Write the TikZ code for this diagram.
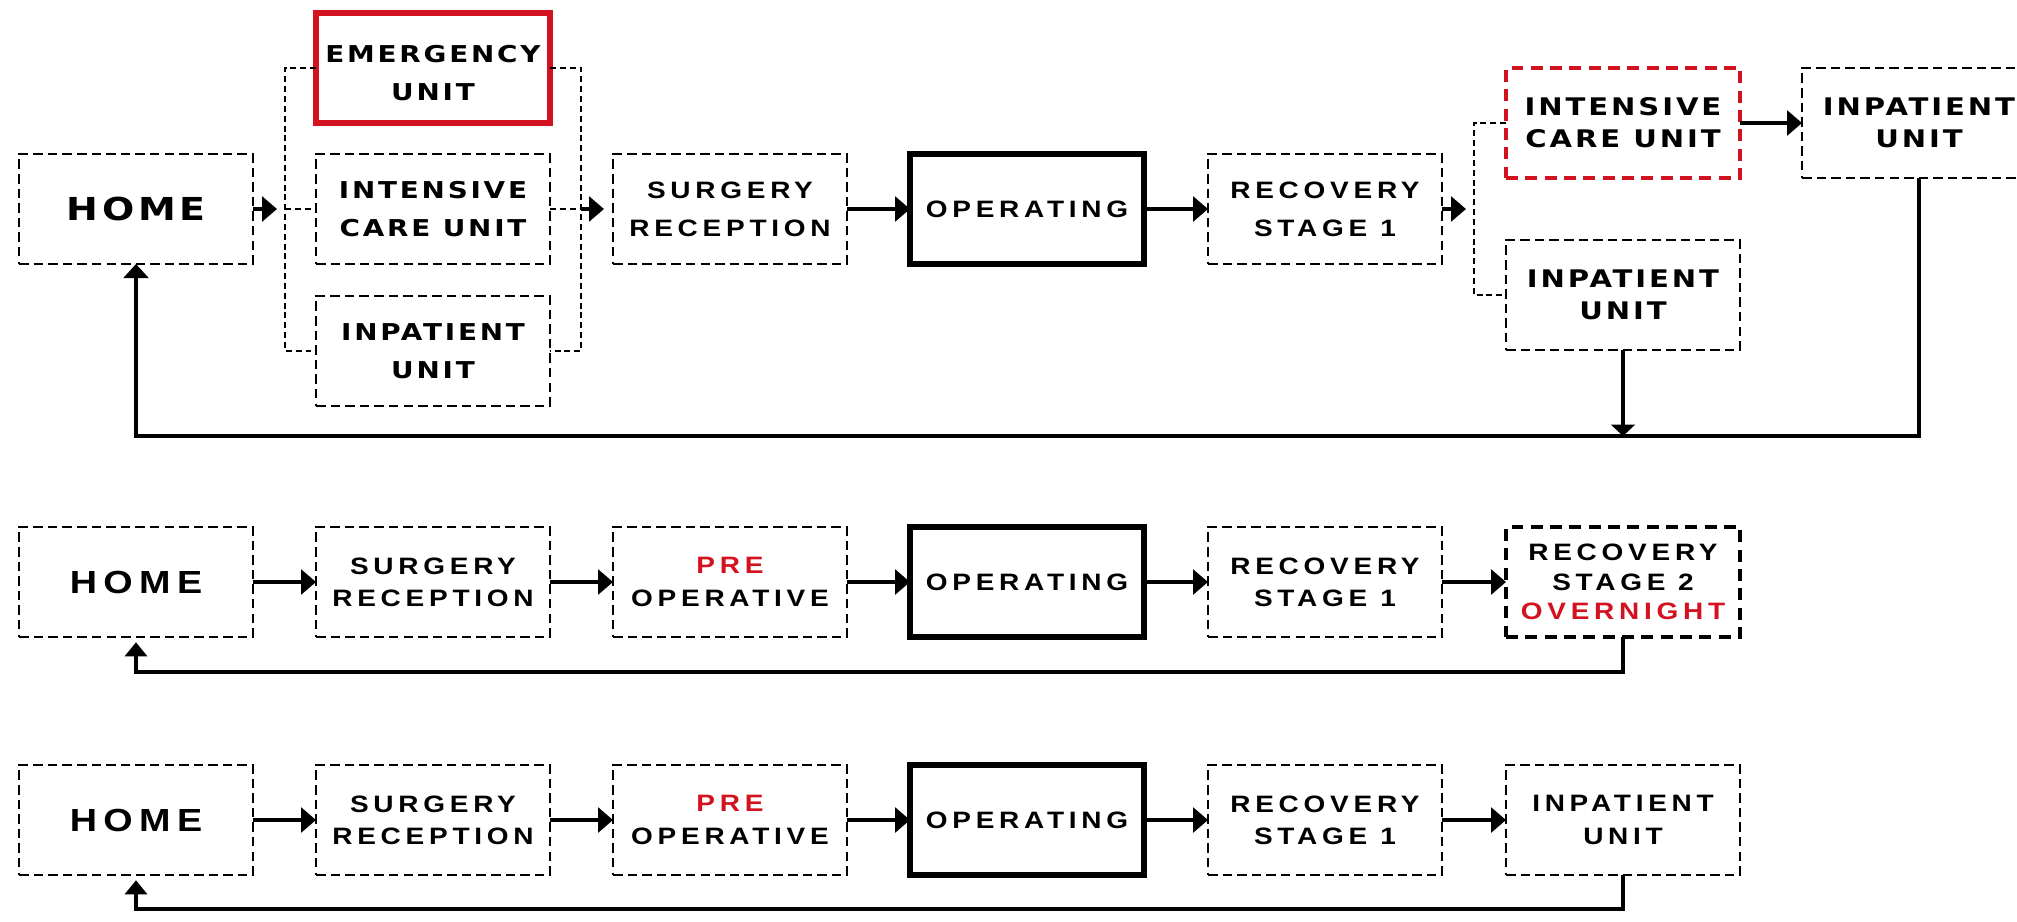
\documentclass[tikz,border=0pt]{standalone}
\usepackage{fontspec}
\usetikzlibrary{arrows.meta}
% extended display face and a narrower technical face
\newfontfamily\widefont[FakeStretch=1.2,LetterSpace=12]{DejaVu Sans}
\newfontfamily\dinfont[FakeStretch=1.18,LetterSpace=20]{Liberation Sans}
\definecolor{alertred}{HTML}{D3121F}

\begin{document}
\begin{tikzpicture}[x=0.02cm,y=-0.02cm,
  box/.style={minimum width=4.68cm, minimum height=2.2cm, inner sep=0pt, outer sep=0pt, align=center},
  dbox/.style={box, draw, line width=1.5pt, dash pattern=on 5.4pt off 2.9pt},
  solidbox/.style={box, draw, line width=3.2pt},
  redbox/.style={box, draw=alertred, line width=2.9pt},
  reddash/.style={box, draw=alertred, line width=2.4pt, dash pattern=on 6.8pt off 4.2pt},
  heavydash/.style={box, draw, line width=2.4pt, dash pattern=on 6.8pt off 4.2pt},
  label/.style={inner sep=0pt, align=center},
  wt/.style={font=\widefont\bfseries\fontsize{13.2pt}{21.8pt}\selectfont},
  wtR/.style={font=\widefont\bfseries\fontsize{13.8pt}{18.1pt}\selectfont},
  whome/.style={font=\widefont\bfseries\fontsize{18pt}{20pt}\selectfont},
  dt/.style={font=\dinfont\bfseries\fontsize{13.5pt}{21.8pt}\selectfont},
  dt2/.style={font=\dinfont\bfseries\fontsize{13.5pt}{18.3pt}\selectfont},
  dt3/.style={font=\dinfont\bfseries\fontsize{13.5pt}{16.7pt}\selectfont},
  dhome/.style={font=\dinfont\bfseries\fontsize{18.2pt}{20pt}\selectfont},
  flow/.style={line width=2.7pt, -{Triangle[length=8.5pt,width=14pt]}},
  ret/.style={line width=2.6pt, line join=miter, -{Triangle[length=8pt,width=14pt]}},
  retthin/.style={line width=2.3pt, -{Triangle[length=6.5pt,width=13.5pt]}},
  ret2/.style={line width=2pt, line join=miter, shorten >=3pt, -{Triangle[length=8pt,width=12.5pt]}},
  bracket/.style={line width=0.9pt, dash pattern=on 3.4pt off 2.2pt}
]
\useasboundingbox (0,0) rectangle (2017,921);
\clip (0,0) rectangle (2017,921);

% ---------------- first pathway ----------------
\node[dbox, whome] (home1) at (136,209) {HOME};
\node[redbox] (emerg) at (433,68) {};
\node[label, wt, yshift=-3pt] (emergtxt) at (emerg.center) {EMERGENCY\\UNIT};
\node[dbox, wt] (icuA) at (433,209) {INTENSIVE\\CARE UNIT};
\node[dbox, wt] (inpA) at (433,351) {INPATIENT\\UNIT};
\node[dbox, dt] (surg1) at (730,209) {SURGERY\\RECEPTION};
\node[solidbox, dt] (oper1) at (1027,209) {OPERATING};
\node[dbox, dt] (rec1) at (1325,209) {RECOVERY\\STAGE\hspace{0.55em}1};
\node[reddash, wtR] (icuB) at (1623,123) {INTENSIVE\\CARE UNIT};
\node[dbox, wtR] (inpB) at (1623,295) {INPATIENT\\UNIT};
\node[dbox, wtR] (inpC) at (1919,123) {INPATIENT\\UNIT};

% branching brackets
\coordinate (bLt) at (285,68);
\coordinate (bLm) at (285,209);
\coordinate (bLb) at (285,351);
\coordinate (bRt) at (581,68);
\coordinate (bRm) at (581,209);
\coordinate (bRb) at (581,351);
\coordinate (cRt) at (1474,123);
\coordinate (cRb) at (1474,295);
\coordinate (tipL) at (277,209);
\coordinate (tipS) at (604,209);
\coordinate (tipR) at (1466,209);
\coordinate (base1) at (0,436);

\draw[bracket] (emerg.west) -- (bLt) -- (bLb) -- (inpA.west);
\draw[bracket] (bLm) -- (icuA.west);
\draw[bracket] (emerg.east) -- (bRt) -- (bRb) -- (inpA.east);
\draw[bracket] (icuA.east) -- (bRm);
\draw[bracket] (icuB.west) -- (cRt) -- (cRb) -- (inpB.west);

\draw[flow] (home1.east) -- (tipL);
\draw[flow] (bRm) -- (tipS);
\draw[flow] (surg1.east) -- (oper1.west);
\draw[flow] (oper1.east) -- (rec1.west);
\draw[flow] (rec1.east) -- (tipR);
\draw[flow] (icuB.east) -- (inpC.west);

\draw[ret] (inpC.south) |- (home1.south |- base1) -- (home1.south);
\draw[retthin] (inpB.south) -- (inpB.south |- base1);

% ---------------- second pathway ----------------
\node[dbox, dhome] (home2) at (136,582) {HOME};
\node[dbox, dt2] (surg2) at (433,582) {SURGERY\\RECEPTION};
\node[dbox, dt2] (pre2) at (730,582) {\textcolor{alertred}{PRE}\\OPERATIVE};
\node[solidbox, dt2] (oper2) at (1027,582) {OPERATING};
\node[dbox, dt2] (rec2) at (1325,582) {RECOVERY\\STAGE\hspace{0.55em}1};
\node[heavydash, dt3] (stage2) at (1623,582) {RECOVERY\\STAGE 2\\\textcolor{alertred}{OVERNIGHT}};
\coordinate (base2) at (0,672);

\draw[flow] (home2.east) -- (surg2.west);
\draw[flow] (surg2.east) -- (pre2.west);
\draw[flow] (pre2.east) -- (oper2.west);
\draw[flow] (oper2.east) -- (rec2.west);
\draw[flow] (rec2.east) -- (stage2.west);
\draw[ret2] (stage2.south) |- (home2.south |- base2) -- (home2.south);

% ---------------- third pathway ----------------
\node[dbox, dhome] (home3) at (136,820) {HOME};
\node[dbox, dt2] (surg3) at (433,820) {SURGERY\\RECEPTION};
\node[dbox, dt2] (pre3) at (730,820) {\textcolor{alertred}{PRE}\\OPERATIVE};
\node[solidbox, dt2] (oper3) at (1027,820) {OPERATING};
\node[dbox, dt2] (rec3) at (1325,820) {RECOVERY\\STAGE\hspace{0.55em}1};
\node[dbox, dt2] (inp3) at (1623,820) {INPATIENT\\UNIT};
\coordinate (base3) at (0,909);

\draw[flow] (home3.east) -- (surg3.west);
\draw[flow] (surg3.east) -- (pre3.west);
\draw[flow] (pre3.east) -- (oper3.west);
\draw[flow] (oper3.east) -- (rec3.west);
\draw[flow] (rec3.east) -- (inp3.west);
\draw[ret2] (inp3.south) |- (home3.south |- base3) -- (home3.south);
\end{tikzpicture}
\end{document}
